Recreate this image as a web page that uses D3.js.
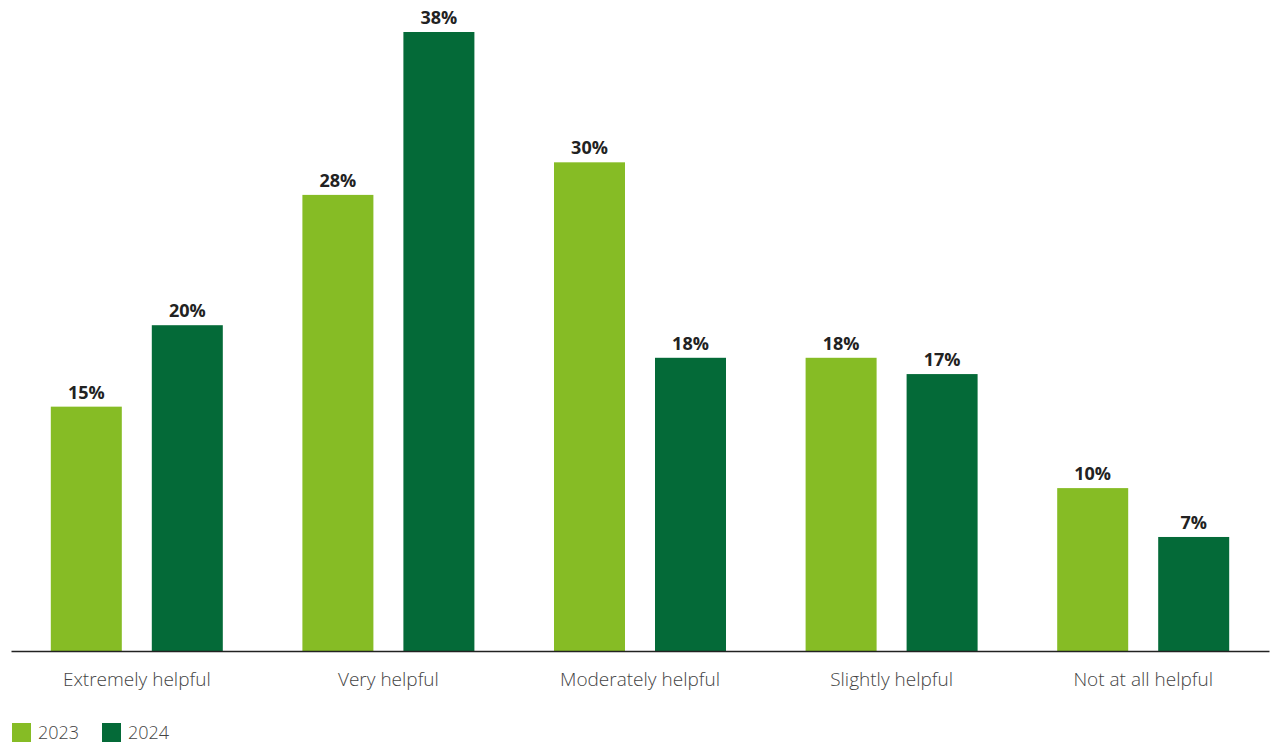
<!DOCTYPE html>
<html>
<head>
<meta charset="utf-8">
<script src="https://cdn.jsdelivr.net/npm/d3@7"></script>
<style>
  body { margin: 0; background: #fff; }
  svg { display: block; font-family: "Open Sans", "Noto Sans", sans-serif; }
</style>
</head>
<body>
<div id="chart"></div>
<script>
const categories = ["Extremely helpful", "Very helpful", "Moderately helpful", "Slightly helpful", "Not at all helpful"];
const years = ["2023", "2024"];
const values2023 = [15, 28, 30, 18, 10];
const values2024 = [20, 38, 18, 17, 7];
const colors = ["#86bc25", "#046a38"];

const width = 1276, height = 743;
const baseline = 651;

const rows = categories.map((c, i) => ({ category: c, values: [values2023[i], values2024[i]] }));

const svg = d3.select("#chart").append("svg")
    .attr("width", width)
    .attr("height", height);

const x0 = d3.scaleBand()
    .domain(categories)
    .range([11, 1269]);

// two bars 71px wide, 30px apart, centred in each group
const half = 86;
const x1 = d3.scaleBand()
    .domain(years)
    .range([x0.bandwidth() / 2 - half, x0.bandwidth() / 2 + half])
    .paddingInner(30 / 101);

const y = d3.scaleLinear()
    .domain([0, 38])
    .range([baseline, 32]);

const color = d3.scaleOrdinal(years, colors);

const group = svg.append("g")
    .selectAll("g")
    .data(rows)
    .join("g")
    .attr("transform", d => `translate(${x0(d.category)},0)`);

const bars = group.selectAll("g")
    .data(d => d.values.map((v, i) => ({ year: years[i], value: v })))
    .join("g");

bars.append("rect")
    .attr("x", d => x1(d.year))
    .attr("y", d => y(d.value))
    .attr("width", x1.bandwidth())
    .attr("height", d => baseline - y(d.value))
    .attr("fill", d => color(d.year));

bars.append("text")
    .attr("x", d => x1(d.year) + x1.bandwidth() / 2)
    .attr("y", d => y(d.value) - 8)
    .attr("text-anchor", "middle")
    .style("font-size", "18px")
    .style("font-weight", 700)
    .style("fill", "#222")
    .text(d => d.value + "%");

// axis
const axis = svg.append("g")
    .attr("transform", `translate(0,${baseline})`)
    .call(d3.axisBottom(x0).tickSize(0).tickPadding(22));
axis.select(".domain").attr("stroke", "#222").attr("stroke-width", 1.5);
axis.selectAll(".tick text")
    .style("font-family", "\"Open Sans\", sans-serif")
    .style("font-size", "19px")
    .style("font-weight", 300)
    .style("fill", "#444");

// legend
const legend = svg.append("g")
    .selectAll("g")
    .data(years)
    .join("g")
    .attr("transform", (d, i) => `translate(${12 + i * 90},723)`);
legend.append("rect")
    .attr("width", 19)
    .attr("height", 19)
    .attr("fill", d => color(d));
legend.append("text")
    .attr("x", 26)
    .attr("y", 16)
    .style("font-size", "18px")
    .style("font-weight", 300)
    .style("fill", "#444")
    .text(d => d);
</script>
</body>
</html>
